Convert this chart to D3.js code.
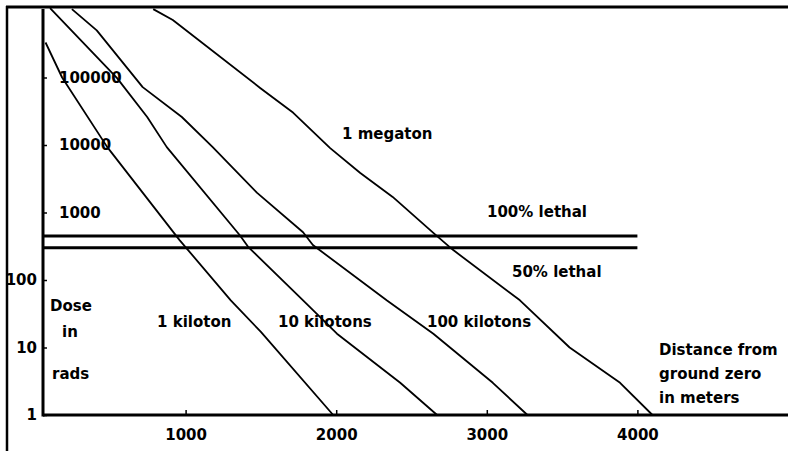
<!DOCTYPE html>
<html>
<head>
<meta charset="utf-8">
<script src="https://cdn.jsdelivr.net/npm/d3@7"></script>
<style>
  body { margin: 0; background: #fff; }
  text { font-family: "DejaVu Sans", sans-serif; font-weight: bold; font-size: 15px; fill: #000; }
</style>
</head>
<body>
<svg id="Chart"></svg>
<script>
// dose (rads) vs distance (m)
const kiloton1 = [[70, 330000], [180, 100000], [480, 9300], [960, 390], [1300, 50], [1500, 17], [1980, 1]];
const kiloton10 = [[100, 1070000], [545, 98000], [745, 26000], [875, 9300], [1360, 460], [1415, 310],
  [1780, 50], [2005, 16], [2425, 3], [2670, 1]];
const kiloton100 = [[245, 1030000], [410, 500000], [715, 72000], [975, 26000], [1180, 9300], [1475, 1950],
  [1780, 510], [1845, 330], [2335, 50], [2645, 16], [3040, 3], [3270, 1]];
const megaton1 = [[785, 1030000], [915, 710000], [1495, 70000], [1715, 30000], [1960, 9000], [2160, 3850],
  [2375, 1700], [2645, 500], [2775, 280], [3220, 50], [3550, 10], [3885, 3], [4100, 1]];

const curveNames = ["1 kiloton", "10 kilotons", "100 kilotons", "1 megaton"];
const lethalDoses = [450, 300];
const lethalNames = ["100% lethal", "50% lethal"];
const yTicks = [1, 10, 100, 1000, 10000, 100000];
const xTicks = [1000, 2000, 3000, 4000];
const yTitle = ["Dose", "in", "rads"];
const xTitle = ["Distance from", "ground zero", "in meters"];

const WidthTotal = 788;
const HeightTotal = 451;

const svg = d3.select("#Chart")
  .attr("width", WidthTotal)
  .attr("height", HeightTotal);

const x = d3.scaleLinear().domain([0, 5000]).range([35, 788]);
const y = d3.scaleLog().domain([1, 1e6]).range([415, 10]);
const x0 = 43; // where the axes meet

// curves
const line = d3.line()
  .x(d => x(d[0]))
  .y(d => y(d[1]));

svg.append("g")
  .selectAll("path")
  .data([kiloton1, kiloton10, kiloton100, megaton1])
  .enter()
  .append("path")
    .attr("d", line)
    .attr("fill", "none")
    .attr("stroke", "#000")
    .attr("stroke-width", 1.8)
    .attr("stroke-linejoin", "round");

// lethal lines
svg.append("g")
  .selectAll("line")
  .data(lethalDoses)
  .enter()
  .append("line")
    .attr("x1", x0).attr("x2", x(4000))
    .attr("y1", d => y(d)).attr("y2", d => y(d))
    .attr("stroke", "#000")
    .attr("stroke-width", 3);

// y axis, big labels go right of the line, small ones left
const yAxis = svg.append("g")
  .attr("transform", `translate(${x0},0)`)
  .call(d3.axisRight(y).tickValues(yTicks).tickFormat(d3.format("d")).tickSize(4).tickPadding(12));
yAxis.select(".domain").remove();
yAxis.selectAll(".tick line").attr("stroke-width", 1.5);
yAxis.selectAll(".tick text")
  .attr("fill", "#000")
  .style("font-size", "15px")
  .filter(d => d < 1000)
    .attr("x", -6)
    .attr("text-anchor", "end");

// x axis, ticks point up
const xAxis = svg.append("g")
  .attr("transform", `translate(0,${y(1)})`)
  .call(d3.axisBottom(x).tickValues(xTicks).tickFormat(d3.format("d")).tickSize(-5).tickSizeOuter(0).tickPadding(14));
xAxis.select(".domain").remove();
xAxis.selectAll(".tick line").attr("stroke-width", 1.5);
xAxis.selectAll(".tick text").attr("fill", "#000").style("font-size", "15px");

svg.append("line")
  .attr("x1", x0).attr("x2", WidthTotal)
  .attr("y1", y(1)).attr("y2", y(1))
  .attr("stroke", "#000").attr("stroke-width", 3);
svg.append("line")
  .attr("x1", x0).attr("x2", x0)
  .attr("y1", 9).attr("y2", y(1) + 1.5)
  .attr("stroke", "#000").attr("stroke-width", 3);

// frame (top and left only)
svg.append("line")
  .attr("x1", 6).attr("x2", WidthTotal).attr("y1", 7).attr("y2", 7)
  .attr("stroke", "#000").attr("stroke-width", 3);
svg.append("line")
  .attr("x1", 7).attr("x2", 7).attr("y1", 6).attr("y2", HeightTotal)
  .attr("stroke", "#000").attr("stroke-width", 2.5);

// labels
const curveLabelPos = [[157, 327], [278, 327], [427, 327], [342, 139]];
svg.append("g")
  .selectAll("text")
  .data(curveNames)
  .enter()
  .append("text")
    .attr("x", (d, i) => curveLabelPos[i][0])
    .attr("y", (d, i) => curveLabelPos[i][1])
    .text(d => d);

const lethalLabelPos = [[487, 217], [512, 277]];
svg.append("g")
  .selectAll("text")
  .data(lethalNames)
  .enter()
  .append("text")
    .attr("x", (d, i) => lethalLabelPos[i][0])
    .attr("y", (d, i) => lethalLabelPos[i][1])
    .text(d => d);

const yTitlePos = [[50, 311], [62, 337], [52, 379]];
svg.append("g")
  .selectAll("text")
  .data(yTitle)
  .enter()
  .append("text")
    .attr("x", (d, i) => yTitlePos[i][0])
    .attr("y", (d, i) => yTitlePos[i][1])
    .text(d => d);

svg.append("g")
  .selectAll("text")
  .data(xTitle)
  .enter()
  .append("text")
    .attr("x", 659)
    .attr("y", (d, i) => 355 + i * 24)
    .text(d => d);
</script>
</body>
</html>
